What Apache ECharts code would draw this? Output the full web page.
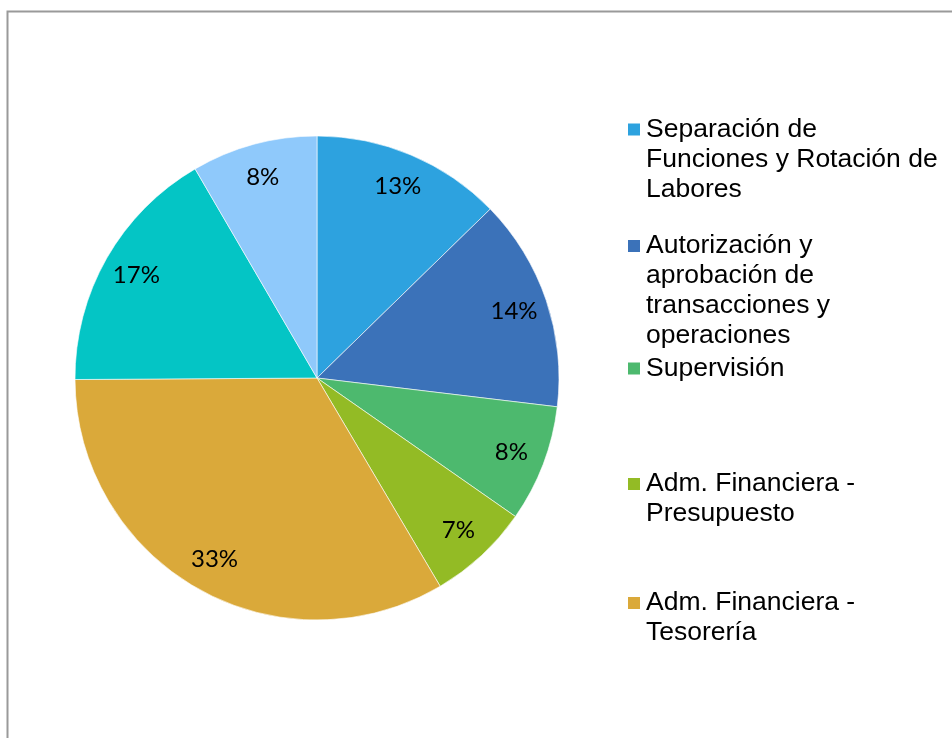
<!DOCTYPE html>
<html lang="es" style="height: 100%">
    <head>
        <meta charset="utf-8">
        <title>Componentes de control</title>
    </head>
    <body style="height: 100%; margin: 0; background: #fff">
        <div id="container" style="width: 952px; height: 738px"></div>
        <script src="https://cdn.jsdelivr.net/npm/echarts@6/dist/echarts.min.js"></script>
        <script>
            let categories = [
                "Separación de\nFunciones y Rotación de\nLabores",
                "Autorización y\naprobación de\ntransacciones y\noperaciones",
                "Supervisión",
                "Adm. Financiera -\nPresupuesto",
                "Adm. Financiera -\nTesorería",
                "Adm. Financiera -\nContabilidad",
                "Adm. de Bienes"
            ];
            let values = [12.7, 14.2, 7.8, 6.8, 33.4, 16.7, 8.4];
            let colors = ["#2da2df", "#3b72b9", "#4db96e", "#93bb25", "#daa93a", "#04c5c5", "#8fc9fb"];
            // only the first five entries fit in the visible legend
            let legendCenters = [129.5, 246, 368.5, 484, 603];

            function buildLegends() {
                let lineHeight = 30;
                let legends = [];

                for (let index = 0; index < legendCenters.length; index++) {
                    let lines = categories[index].split("\n").length;
                    legends.push({
                        data: [categories[index]],
                        left: 626,
                        top: legendCenters[index] - (lines - 1) * lineHeight - lineHeight / 2,
                        padding: 0,
                        itemWidth: 14,
                        itemHeight: 14,
                        icon: "rect",
                        selectedMode: false,
                        // blank lines above keep the marker level with the first line
                        formatter: function (name) {
                            return "\n".repeat(lines - 1) + name;
                        },
                        textStyle: {
                            fontFamily: "Liberation Sans",
                            fontSize: 26.5,
                            lineHeight: lineHeight,
                            color: "#000"
                        }
                    });
                }

                return legends;
            }

            function drawChart() {
                let dom = document.getElementById("container");
                let chart = echarts.init(dom, null, { renderer: "canvas" });
                let pieData = [];

                for (let index = 0; index < categories.length; index++) {
                    pieData.push({ value: values[index], name: categories[index] });
                }

                let option = {
                    backgroundColor: "#fff",
                    animation: false,
                    color: colors,
                    legend: buildLegends(),
                    graphic: [
                        {
                            type: "rect",
                            shape: { x: 7.5, y: 11.5, width: 1200, height: 1000 },
                            style: { fill: "none", stroke: "#9a9a9a", lineWidth: 2 },
                            silent: true
                        }
                    ],
                    series: [
                        {
                            type: "pie",
                            center: [317, 378],
                            radius: [0, 242],
                            startAngle: 90,
                            clockwise: true,
                            silent: true,
                            itemStyle: { borderColor: "#ffffff", borderWidth: 0.6 },
                            label: { show: false },
                            labelLine: { show: false },
                            data: pieData
                        },
                        {
                            // transparent ring that carries the percent labels near the rim
                            type: "pie",
                            center: [317, 378],
                            radius: [168, 242],
                            startAngle: 90,
                            clockwise: true,
                            silent: true,
                            itemStyle: { color: "rgba(0,0,0,0)" },
                            label: {
                                show: true,
                                position: "inside",
                                fontFamily: "Lato",
                                fontSize: 24,
                                color: "#000",
                                formatter: function (params) {
                                    return Math.round(params.percent) + "%";
                                }
                            },
                            labelLine: { show: false },
                            data: pieData
                        }
                    ]
                };

                chart.setOption(option);
            }

            drawChart();
        </script>
    </body>
</html>
